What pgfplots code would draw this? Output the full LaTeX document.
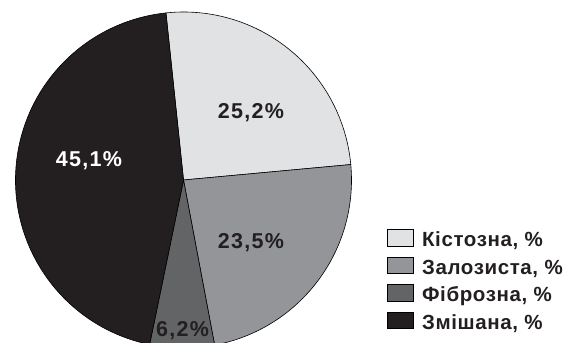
\documentclass[border=0pt]{standalone}
\usepackage{fontspec}
\setmainfont{Liberation Sans}
\newfontfamily\lbl[LetterSpace=6]{Liberation Sans}
\newfontfamily\leg[LetterSpace=3]{Liberation Sans}
\usepackage{pgfplots}
\pgfplotsset{compat=1.18}
\usepackage{pgfplotstable}
\definecolor{c1}{HTML}{E1E2E4}
\definecolor{c2}{HTML}{939598}
\definecolor{c3}{HTML}{636466}
\definecolor{c4}{HTML}{231F20}
\definecolor{txt}{HTML}{231F20}
\pgfplotstableread{
idx value
1 25.2
2 23.5
3 6.2
4 45.1
}\piedata
\begin{document}
\begin{tikzpicture}
\pgfplotstablegetelem{0}{value}\of\piedata \let\vA\pgfplotsretval
\pgfplotstablegetelem{1}{value}\of\piedata \let\vB\pgfplotsretval
\pgfplotstablegetelem{2}{value}\of\piedata \let\vC\pgfplotsretval
\pgfplotstablegetelem{3}{value}\of\piedata \let\vD\pgfplotsretval
\pgfmathsetmacro\aO{96.0}
\pgfmathsetmacro\aA{\aO-3.6*\vA}
\pgfmathsetmacro\aB{\aA-3.6*\vB}
\pgfmathsetmacro\aC{\aB-3.6*\vC}
\pgfmathsetmacro\aD{\aC-3.6*\vD}
\begin{axis}[
  width=574pt, height=342pt, scale only axis,
  xmin=-1.0923, xmax=2.3244, ymin=-0.9643, ymax=1.0714,
  axis lines=none, clip=true,
  legend image code/.code={\draw[#1] (0pt,-6.2pt) rectangle (25.6pt,10.5pt);},
  legend style={at={(axis cs:1.2095,-0.2845)}, anchor=north west,
    draw=none, fill=none, inner sep=0pt, row sep=3.5pt,
    font=\leg\bfseries\fontsize{20.5}{20.5}\selectfont, text=txt,
    nodes={inner sep=0pt, text height=19pt, text depth=5pt},
    /tikz/every odd column/.append style={column sep=9pt},
    /tikz/row 4/.style={yshift=-4.5pt}},
  legend cell align=left,
]
\fill[c1, draw=black, line width=0.6pt] (axis cs:0,0) -- (axis cs:{cos(\aO)},{sin(\aO)}) arc[start angle=\aO, end angle=\aA, radius=168pt] -- cycle;
\fill[c2, draw=black, line width=0.6pt] (axis cs:0,0) -- (axis cs:{cos(\aA)},{sin(\aA)}) arc[start angle=\aA, end angle=\aB, radius=168pt] -- cycle;
\fill[c3, draw=black, line width=0.6pt] (axis cs:0,0) -- (axis cs:{cos(\aB)},{sin(\aB)}) arc[start angle=\aB, end angle=\aC, radius=168pt] -- cycle;
\fill[c4, draw=black, line width=0.6pt] (axis cs:0,0) -- (axis cs:{cos(\aC)},{sin(\aC)}) arc[start angle=\aC, end angle=\aD, radius=168pt] -- cycle;
\node[anchor=base, font=\lbl\bfseries\fontsize{21.5}{21.5}\selectfont, text=txt] at (axis cs:0.4018,0.369) {25,2\%};
\node[anchor=base, font=\lbl\bfseries\fontsize{21.5}{21.5}\selectfont, text=txt] at (axis cs:0.4018,-0.4048) {23,5\%};
\node[anchor=base, font=\lbl\bfseries\fontsize{21.5}{21.5}\selectfont, text=txt] at (axis cs:-0.006,-0.9327) {6,2\%};
\node[anchor=base, font=\lbl\bfseries\fontsize{21.5}{21.5}\selectfont, text=white] at (axis cs:-0.5625,0.0792) {45,1\%};
\addlegendimage{fill=c1, draw=black, line width=0.6pt}
\addlegendentry{Кістозна, \%}
\addlegendimage{fill=c2, draw=black, line width=0.6pt}
\addlegendentry{Залозиста, \%}
\addlegendimage{fill=c3, draw=black, line width=0.6pt}
\addlegendentry{Фіброзна, \%}
\addlegendimage{fill=c4, draw=black, line width=0.6pt}
\addlegendentry{Змішана, \%}
\end{axis}
\pgfresetboundingbox
\path[use as bounding box] (current axis.south west) rectangle (current axis.north east);
\end{tikzpicture}
\end{document}
